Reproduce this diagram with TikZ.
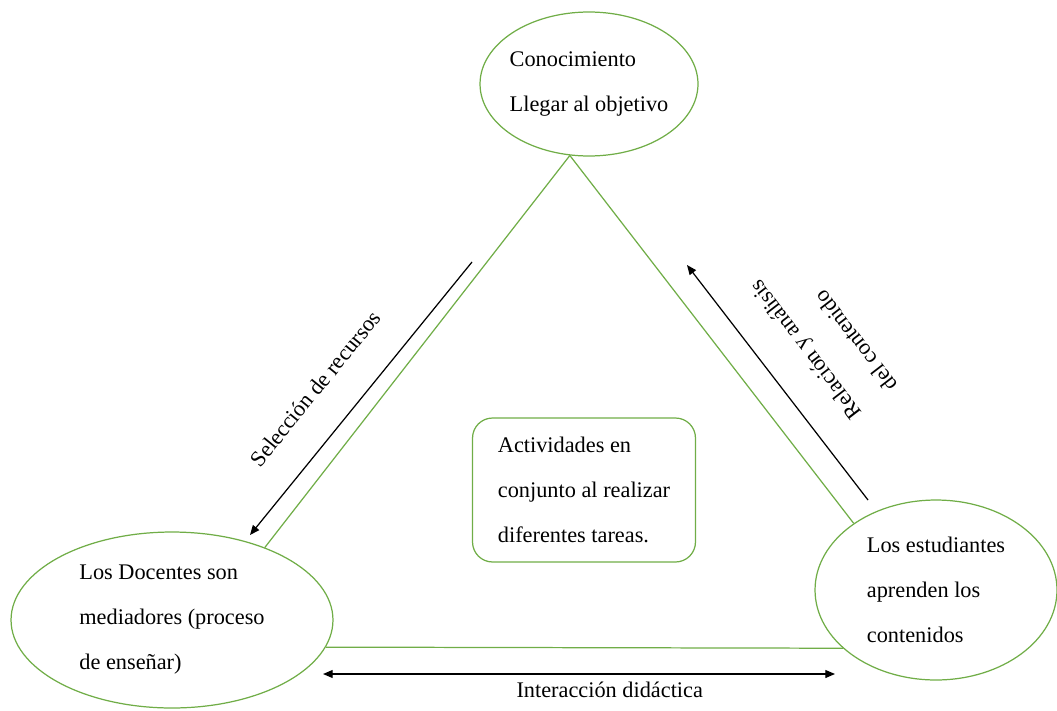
\documentclass[tikz,border=0pt]{standalone}
\usepackage{fontspec}
\setmainfont{Liberation Serif}
\usepackage{xcolor}
\usetikzlibrary{shapes,arrows.meta}

\definecolor{leaf}{HTML}{70AD47}

\begin{document}
\begin{tikzpicture}[x=0.02cm, y=-0.02cm,
    txt/.style={font={\fontsize{12.7}{25.6}\selectfont}, align=left},
    vertex/.style={ellipse, draw=leaf, line width=0.7pt, inner sep=-0.3cm, txt},
    hub/.style={rectangle, rounded corners=0.4cm, draw=leaf, line width=0.7pt,
        minimum width=4.46cm, minimum height=2.88cm, txt},
    side/.style={draw=leaf, line width=0.7pt},
    arrow/.style={->, line width=0.7pt, >={Triangle[length=5.5pt, width=4.5pt]}}]

    \useasboundingbox (0,0) rectangle (1057,710);

    \node[vertex, minimum width=4.36cm, minimum height=2.88cm] (know) at (589,84) {Conocimiento\\Llegar al objetivo};
    \node[vertex, minimum width=6.44cm, minimum height=3.52cm] (teach) at (172,620) {Los Docentes son\\mediadores (proceso\\de enseñar)};
    \node[vertex, minimum width=4.84cm, minimum height=3.6cm] (learn) at (936,590) {Los estudiantes\\aprenden los\\contenidos};
    \node[hub] (act) at (584,490) {Actividades en\\conjunto al realizar\\diferentes tareas.};

    % sides of the triangle
    \draw[side] (know.255) -- (teach.38);
    \draw[side] (know.255) -- (learn.141);
    \draw[side] (teach.-10) -- (learn.212);

    % arrows along the sides
    \coordinate (selA) at (472,262);
    \coordinate (selB) at (250,535);
    \coordinate (relA) at (868,500);
    \coordinate (relB) at (687,265);
    \coordinate (intA) at (323,674);
    \coordinate (intB) at (835,674);

    \draw[arrow] (selA) -- node[sloped, pos=0.56, above=0.55cm, txt] {Selección de recursos} (selB);
    \draw[arrow] (relA) -- node[sloped, allow upside down, pos=0.53, below=0.55cm, txt] {Relación y análisis\\del contenido} (relB);
    \draw[arrow, <->] (intA) -- node[pos=0.56, below=1pt, txt] {Interacción didáctica} (intB);
\end{tikzpicture}
\end{document}
